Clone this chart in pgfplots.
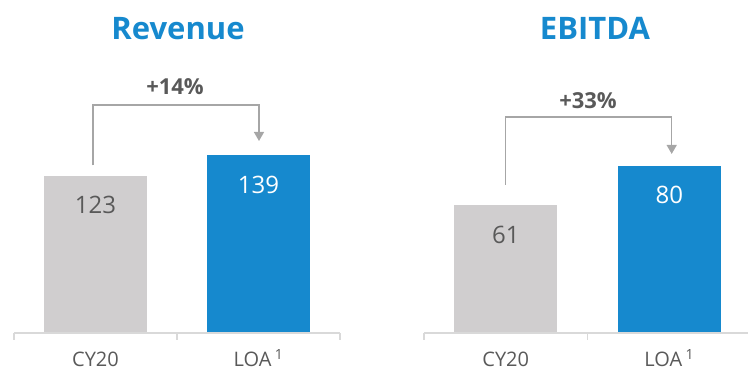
\documentclass[border=0pt]{standalone}
\usepackage{pgfplots}
\pgfplotsset{compat=1.18}
\usepackage{fontspec}
\setmainfont{Open Sans}
\usetikzlibrary{arrows.meta}
\definecolor{barGray}{RGB}{208,206,207}
\definecolor{barBlue}{RGB}{22,137,206}
\definecolor{txtGray}{RGB}{89,89,89}
\definecolor{brGray}{RGB}{166,166,166}
\definecolor{axGray}{RGB}{217,217,217}
\tikzset{axl/.style={axGray, line width=1.5bp}}
\pgfplotsset{
  panel/.style={
    scale only axis, anchor=south west, clip=false,
    xmin=-0.5, xmax=1.5, ymin=0,
    axis line style={draw=none}, major tick length=0pt,
    ytick=\empty, xtick={0,1},
    xticklabels={CY20, LOA\,\textsuperscript{1}},
    xticklabel style={anchor=base, inner sep=0pt, yshift=-33.5bp, text=txtGray, font=\fontsize{20bp}{24bp}\selectfont},
    ybar, bar width=103bp,
  },
  lbl/.style={nodes near coords, nodes near coords style={anchor=center, yshift=-29.5bp, text=#1, font=\fontsize{24bp}{28bp}\selectfont, /pgf/number format/assume math mode=true}},
}
\begin{document}
\begin{tikzpicture}
\path[use as bounding box] (0,0) rectangle (748bp,372bp);
% Revenue
\begin{axis}[panel, at={(14bp,39bp)}, width=326bp, height=256bp, ymax=200]
\addplot[fill=barGray, draw=none, bar shift=0pt, lbl=txtGray] coordinates {(0,123)};
\addplot[fill=barBlue, draw=none, bar shift=0pt, lbl=white] coordinates {(1,139)};
\draw[axl] (axis cs:-0.5,0) -- (axis cs:1.5,0);
\draw[axl] (axis cs:-0.5,0) -- ++(0pt,-7bp);
\draw[axl] (axis cs:0.5,0) -- ++(0pt,-7bp);
\draw[axl] (axis cs:1.5,0) -- ++(0pt,-7bp);
\draw[brGray, line width=1.4bp, -{Triangle[width=10bp,length=9bp]}] (axis cs:-0.015,131) -- (axis cs:-0.015,178) -- (axis cs:1.003,178) -- (axis cs:1.003,150);
\end{axis}
% EBITDA
\begin{axis}[panel, at={(424bp,39bp)}, width=327bp, height=251bp, ymax=120]
\addplot[fill=barGray, draw=none, bar shift=0pt, lbl=txtGray] coordinates {(0,61)};
\addplot[fill=barBlue, draw=none, bar shift=0pt, lbl=white] coordinates {(1,80)};
\draw[axl] (axis cs:-0.5,0) -- (axis cs:1.5,0);
\draw[axl] (axis cs:-0.5,0) -- ++(0pt,-7bp);
\draw[axl] (axis cs:0.5,0) -- ++(0pt,-7bp);
\draw[axl] (axis cs:1.5,0) -- ++(0pt,-7bp);
\draw[brGray, line width=1.4bp, -{Triangle[width=10bp,length=9bp]}] (axis cs:0,70.8) -- (axis cs:0,103.3) -- (axis cs:1.015,103.3) -- (axis cs:1.015,85.6);
\end{axis}
% titles and changes
\node[anchor=base, text=barBlue, font=\bfseries\fontsize{31bp}{36bp}\selectfont] at (178bp,332.7bp) {Revenue};
\node[anchor=base, text=barBlue, font=\bfseries\fontsize{31bp}{36bp}\selectfont] at (595bp,332.7bp) {EBITDA};
\node[anchor=base, text=txtGray, font=\bfseries\fontsize{22bp}{26bp}\selectfont] at (175bp,277bp) {+14\%};
\node[anchor=base, text=txtGray, font=\bfseries\fontsize{22bp}{26bp}\selectfont] at (588bp,263.7bp) {+33\%};
\end{tikzpicture}
\end{document}
